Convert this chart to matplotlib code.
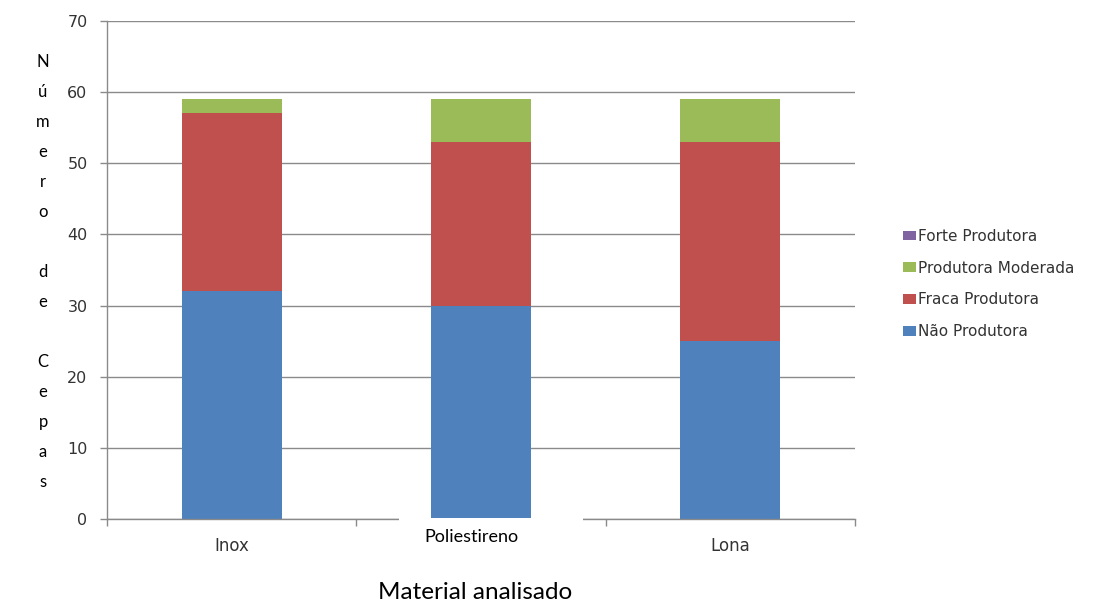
import matplotlib
matplotlib.use("Agg")
import matplotlib.pyplot as plt
from matplotlib.patches import Rectangle
import numpy as np

plt.rcParams["font.family"] = ["DejaVu Sans"]

# dados
materiais = ["Inox", "Poliestireno", "Lona"]
nao_produtora = [32, 30, 25]
fraca_produtora = [25, 23, 28]
produtora_moderada = [2, 6, 6]
forte_produtora = [0, 0, 0]

series = [
    ("Não Produtora", nao_produtora, "#4F81BD"),
    ("Fraca Produtora", fraca_produtora, "#C0504D"),
    ("Produtora Moderada", produtora_moderada, "#9BBB59"),
    ("Forte Produtora", forte_produtora, "#8064A2"),
]

W, H = 1100, 601
fig = plt.figure(figsize=(W / 100, H / 100), dpi=100)
ax = fig.add_axes([107 / W, 1 - 519 / H, (855 - 107) / W, (519 - 21) / H])

x = np.arange(len(materiais))
bottom = np.zeros(len(materiais))
handles = []
for nome, vals, cor in series:
    b = ax.bar(x, vals, width=0.4, bottom=bottom, color=cor, label=nome, zorder=2)
    handles.append(b)
    bottom += np.array(vals)

ax.set_xlim(-0.5, len(materiais) - 0.5)
ax.set_ylim(0, 70)
ax.set_yticks(range(0, 71, 10))
ax.yaxis.grid(True, color="#8a8a8a", linewidth=1, zorder=0)
ax.set_axisbelow(True)

for s in ["top", "right"]:
    ax.spines[s].set_visible(False)
for s in ["left", "bottom"]:
    ax.spines[s].set_color("#8a8a8a")
    ax.spines[s].set_linewidth(1)

ax.tick_params(axis="y", colors="#8a8a8a", length=5, width=1, pad=9,
               labelcolor="#333333", labelsize=11.5)
ax.set_xticks(x)
ax.set_xticks(np.arange(-0.5, len(materiais)), minor=True)
ax.tick_params(axis="x", which="major", length=0, pad=13, labelcolor="#333333",
               labelsize=12)
ax.tick_params(axis="x", which="minor", length=5, width=1, colors="#8a8a8a")
rotulos = [m if m != "Poliestireno" else "" for m in materiais]
ax.set_xticklabels(rotulos)

# caixa branca por cima do eixo, com o rótulo colado
ax.add_patch(Rectangle((0.67, -5), 0.74, 5.08, facecolor="white", edgecolor="none",
                       clip_on=False, zorder=5))
ax.text(0.96, -2.6, "Poliestireno", ha="center", va="center", fontsize=13,
        family="Lato", color="black", zorder=6, clip_on=False)

# título do eixo y, letra a letra
letras = list("Número") + [""] + list("de") + [""] + list("Cepas")
for i, c in enumerate(letras):
    if c:
        fig.text(43 / W, 1 - (62 + 30 * i) / H, c, ha="center", va="center",
                 fontsize=12, family="Lato", color="black")

fig.text(475 / W, 1 - 599 / H, "Material analisado", ha="center", va="baseline",
         fontsize=17.5, family="Lato", color="black")

leg = fig.legend(handles[::-1], [s[0] for s in series][::-1], loc="center left",
                 bbox_to_anchor=(889 / W, 1 - 284 / H), frameon=False,
                 handlelength=0.85, handleheight=0.6, handletextpad=0.15,
                 labelspacing=1.1, fontsize=11)
for t in leg.get_texts():
    t.set_color("#333333")

fig.savefig("out.png", dpi=100, facecolor="white")
